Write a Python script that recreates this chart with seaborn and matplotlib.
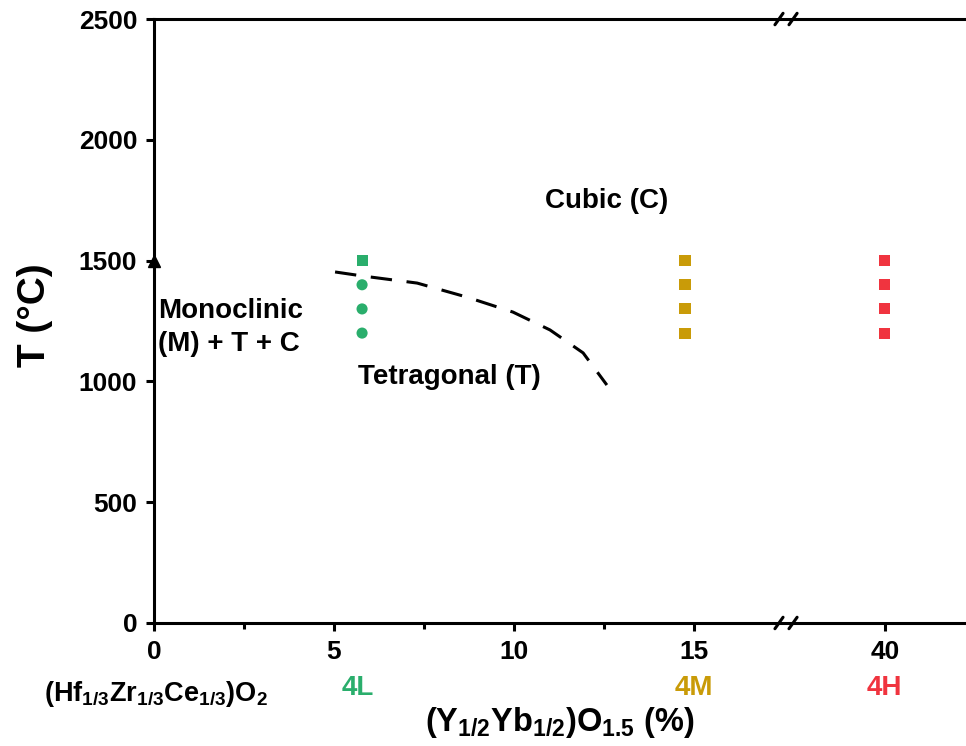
import numpy as np
import pandas as pd
import matplotlib
matplotlib.use("Agg")
import matplotlib.pyplot as plt
import matplotlib.transforms as mtransforms
from matplotlib.ticker import FixedLocator
import seaborn as sns

# ---- data -------------------------------------------------------------
samples = ["4L", "4L", "4L", "4L", "4M", "4M", "4M", "4M", "4H", "4H", "4H", "4H"]
composition = [5.78, 5.78, 5.78, 5.78, 14.75, 14.75, 14.75, 14.75, 40, 40, 40, 40]
temperature = [1500, 1400, 1300, 1200, 1500, 1400, 1300, 1200, 1500, 1400, 1300, 1200]
phase = ["C", "T", "T", "T", "C", "C", "C", "C", "C", "C", "C", "C"]

boundary_x = [5.03, 5.81, 7.31, 8.69, 9.97, 11.0, 11.92, 12.58]
boundary_T = [1453, 1436, 1407, 1349, 1287, 1213, 1118, 985]

sample_colors = {"4L": "#2AAE6C", "4M": "#C99B08", "4H": "#F0343F"}
sample_label_x = {"4L": 5.65, "4M": 15.0, "4H": 40.0}

x_major = [0, 5, 10, 15, 40]
x_minor = [2.5, 7.5, 12.5]
y_major = [0, 500, 1000, 1500, 2000, 2500]

# ---- style ------------------------------------------------------------
sns.set_theme(style="white")
plt.rcParams["font.family"] = ["Liberation Sans", "DejaVu Sans"]
plt.rcParams["font.weight"] = "bold"
plt.rcParams["text.color"] = "black"
plt.rcParams["axes.labelcolor"] = "black"
plt.rcParams["xtick.color"] = "black"
plt.rcParams["ytick.color"] = "black"
plt.rcParams["mathtext.fontset"] = "custom"
for key in ("rm", "it", "bf", "sf"):
    plt.rcParams["mathtext." + key] = "Liberation Sans:bold"

fig = plt.figure(figsize=(9.66, 7.46), dpi=100)
ax = fig.add_axes([0.1594, 0.1649, 0.8406, 0.8096])

# broken x axis: 17.5 .. 37.2 is cut out
B1, B2 = 17.5, 37.2


def fwd(x):
    x = np.asarray(x, dtype=float)
    return np.where(x <= B1, x, np.where(x >= B2, B1 + x - B2, B1))


def inv(t):
    t = np.asarray(t, dtype=float)
    return np.where(t <= B1, t, t - B1 + B2)


df = pd.DataFrame({"x": composition, "T": temperature,
                   "sample": samples, "phase": phase})

sns.scatterplot(data=df, x="x", y="T", hue="sample", style="phase",
                markers={"C": "s", "T": "o"}, palette=sample_colors,
                s=64, linewidth=0, legend=False, ax=ax, zorder=3)

bdf = pd.DataFrame({"x": boundary_x, "T": boundary_T})
sns.lineplot(data=bdf, x="x", y="T", sort=False, color="black",
             linewidth=2.2, ax=ax, zorder=2)
ax.lines[-1].set_dashes((7, 4.8))

# melting reference on the pure oxide axis
ax.plot([0], [1500], marker="^", color="black", markersize=9,
        clip_on=False, zorder=4)

ax.set_xscale("function", functions=(fwd, inv))
ax.set_xlim(0, B2 + (966 - 154) / 36 - B1)
ax.set_ylim(0, 2500)

ax.xaxis.set_major_locator(FixedLocator(x_major))
ax.xaxis.set_minor_locator(FixedLocator(x_minor))
ax.yaxis.set_major_locator(FixedLocator(y_major))
ax.set_xticklabels([str(v) for v in x_major])

ax.tick_params(axis="both", which="major", direction="out", length=6,
               width=2.2, color="black", labelsize=19, pad=6,
               labelcolor="black", bottom=True, left=True)
ax.tick_params(axis="x", which="minor", direction="out", length=4,
               width=2.2, color="black", bottom=True)
for lbl in ax.get_xticklabels() + ax.get_yticklabels():
    lbl.set_fontweight("bold")

for side in ("left", "bottom", "top"):
    ax.spines[side].set_linewidth(2.2)
    ax.spines[side].set_color("black")
ax.spines["right"].set_visible(False)

# break marks on top and bottom spines
for xc in (0.7697, 0.787):
    for yc in (0.0, 1.0):
        ax.plot([xc - 0.005, xc + 0.005], [yc - 0.0095, yc + 0.0095],
                transform=ax.transAxes, color="black", linewidth=2.2,
                clip_on=False, zorder=5)

# phase-field labels
ax.text(12.58, 1745, "Cubic (C)", fontsize=20, fontweight="bold",
        ha="center", va="center")
ax.text(8.2, 1020, "Tetragonal (T)", fontsize=20, fontweight="bold",
        ha="center", va="center")
ax.text(0.12, 1290, "Monoclinic", fontsize=20, fontweight="bold",
        ha="left", va="center")
ax.text(0.12, 1155, "(M) + T + C", fontsize=20, fontweight="bold",
        ha="left", va="center")

# sample names under the composition ticks
trans = mtransforms.blended_transform_factory(ax.transData, ax.transAxes)
for name, xv in sample_label_x.items():
    ax.text(xv, -0.108, name, transform=trans, color=sample_colors[name],
            fontsize=20, fontweight="bold", ha="center", va="center")

ax.text(-0.135, -0.118, r"(Hf$_{1/3}$Zr$_{1/3}$Ce$_{1/3}$)O$_2$",
        transform=ax.transAxes, fontsize=19.5, fontweight="bold",
        ha="left", va="center")

ax.set_xlabel(r"(Y$_{1/2}$Yb$_{1/2}$)O$_{1.5}$ (%)", fontsize=23.5,
              fontweight="bold", va="center")
ax.xaxis.set_label_coords(0.5, -0.165)
ax.set_ylabel("T (°C)", fontsize=28, fontweight="bold", va="center")
ax.yaxis.set_label_coords(-0.147, 0.51)

fig.savefig("out.png", dpi=100, facecolor="white")
